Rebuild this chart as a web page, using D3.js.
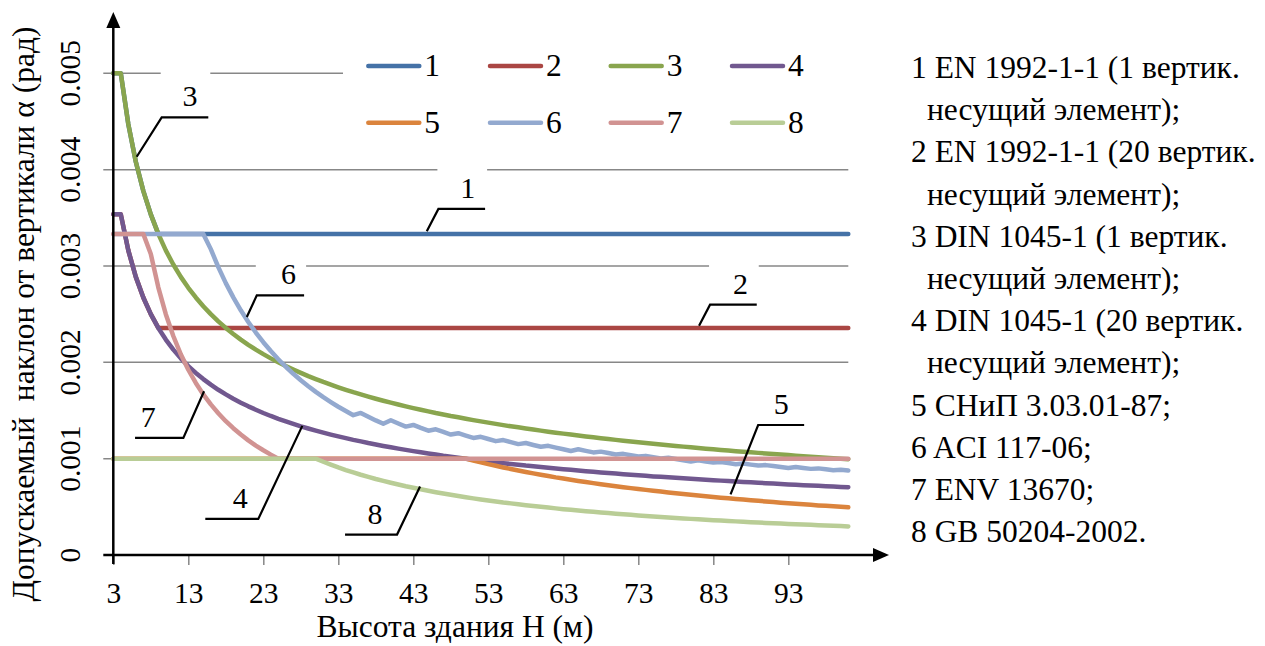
<!DOCTYPE html>
<html>
<head>
<meta charset="utf-8">
<script src="https://cdn.jsdelivr.net/npm/d3@7"></script>
<style>
  body { margin: 0; background: #fff; }
  svg { display: block; }
  svg text { font-family: "Liberation Serif", "Times New Roman", Times, serif; }
</style>
</head>
<body>
<div id="viz"></div>
<script>
const width = 1265;
const height = 646;
const plot = {left: 113.3, right: 848.3, top: 73.3, bottom: 555};
const gridColor = '#878787';
const fontFamily = '"Liberation Serif", "Times New Roman", Times, serif';
const tickFont = 29.5;
const textFont = 31.5;

// Building height H (m), one point per metre
const heights = [
  3, 4, 5, 6, 7, 8, 9, 10, 11, 12,
  13, 14, 15, 16, 17, 18, 19, 20, 21, 22,
  23, 24, 25, 26, 27, 28, 29, 30, 31, 32,
  33, 34, 35, 36, 37, 38, 39, 40, 41, 42,
  43, 44, 45, 46, 47, 48, 49, 50, 51, 52,
  53, 54, 55, 56, 57, 58, 59, 60, 61, 62,
  63, 64, 65, 66, 67, 68, 69, 70, 71, 72,
  73, 74, 75, 76, 77, 78, 79, 80, 81, 82,
  83, 84, 85, 86, 87, 88, 89, 90, 91, 92,
  93, 94, 95, 96, 97, 98, 99, 100, 101
];

// 1 EN 1992-1-1 (1 element)
const s1 = [
  0.005, 0.005, 0.004472, 0.004082, 0.00378, 0.003536, 0.003333, 0.003333, 0.003333, 0.003333,
  0.003333, 0.003333, 0.003333, 0.003333, 0.003333, 0.003333, 0.003333, 0.003333, 0.003333, 0.003333,
  0.003333, 0.003333, 0.003333, 0.003333, 0.003333, 0.003333, 0.003333, 0.003333, 0.003333, 0.003333,
  0.003333, 0.003333, 0.003333, 0.003333, 0.003333, 0.003333, 0.003333, 0.003333, 0.003333, 0.003333,
  0.003333, 0.003333, 0.003333, 0.003333, 0.003333, 0.003333, 0.003333, 0.003333, 0.003333, 0.003333,
  0.003333, 0.003333, 0.003333, 0.003333, 0.003333, 0.003333, 0.003333, 0.003333, 0.003333, 0.003333,
  0.003333, 0.003333, 0.003333, 0.003333, 0.003333, 0.003333, 0.003333, 0.003333, 0.003333, 0.003333,
  0.003333, 0.003333, 0.003333, 0.003333, 0.003333, 0.003333, 0.003333, 0.003333, 0.003333, 0.003333,
  0.003333, 0.003333, 0.003333, 0.003333, 0.003333, 0.003333, 0.003333, 0.003333, 0.003333, 0.003333,
  0.003333, 0.003333, 0.003333, 0.003333, 0.003333, 0.003333, 0.003333, 0.003333, 0.003333
];
// 2 EN 1992-1-1 (20 elements)
const s2 = [
  0.003536, 0.003536, 0.003162, 0.002887, 0.002673, 0.0025, 0.002357, 0.002357, 0.002357, 0.002357,
  0.002357, 0.002357, 0.002357, 0.002357, 0.002357, 0.002357, 0.002357, 0.002357, 0.002357, 0.002357,
  0.002357, 0.002357, 0.002357, 0.002357, 0.002357, 0.002357, 0.002357, 0.002357, 0.002357, 0.002357,
  0.002357, 0.002357, 0.002357, 0.002357, 0.002357, 0.002357, 0.002357, 0.002357, 0.002357, 0.002357,
  0.002357, 0.002357, 0.002357, 0.002357, 0.002357, 0.002357, 0.002357, 0.002357, 0.002357, 0.002357,
  0.002357, 0.002357, 0.002357, 0.002357, 0.002357, 0.002357, 0.002357, 0.002357, 0.002357, 0.002357,
  0.002357, 0.002357, 0.002357, 0.002357, 0.002357, 0.002357, 0.002357, 0.002357, 0.002357, 0.002357,
  0.002357, 0.002357, 0.002357, 0.002357, 0.002357, 0.002357, 0.002357, 0.002357, 0.002357, 0.002357,
  0.002357, 0.002357, 0.002357, 0.002357, 0.002357, 0.002357, 0.002357, 0.002357, 0.002357, 0.002357,
  0.002357, 0.002357, 0.002357, 0.002357, 0.002357, 0.002357, 0.002357, 0.002357, 0.002357
];
// 3 DIN 1045-1 (1 element)
const s3 = [
  0.005, 0.005, 0.004472, 0.004082, 0.00378, 0.003536, 0.003333, 0.003162, 0.003015, 0.002887,
  0.002774, 0.002673, 0.002582, 0.0025, 0.002425, 0.002357, 0.002294, 0.002236, 0.002182, 0.002132,
  0.002085, 0.002041, 0.002, 0.001961, 0.001925, 0.00189, 0.001857, 0.001826, 0.001796, 0.001768,
  0.001741, 0.001715, 0.00169, 0.001667, 0.001644, 0.001622, 0.001601, 0.001581, 0.001562, 0.001543,
  0.001525, 0.001508, 0.001491, 0.001474, 0.001459, 0.001443, 0.001429, 0.001414, 0.0014, 0.001387,
  0.001374, 0.001361, 0.001348, 0.001336, 0.001325, 0.001313, 0.001302, 0.001291, 0.00128, 0.00127,
  0.00126, 0.00125, 0.00124, 0.001231, 0.001222, 0.001213, 0.001204, 0.001195, 0.001187, 0.001179,
  0.00117, 0.001162, 0.001155, 0.001147, 0.00114, 0.001132, 0.001125, 0.001118, 0.001111, 0.001104,
  0.001098, 0.001091, 0.001085, 0.001078, 0.001072, 0.001066, 0.00106, 0.001054, 0.001048, 0.001043,
  0.001037, 0.001031, 0.001026, 0.001021, 0.001015, 0.00101, 0.001005, 0.001, 0.000995
];
// 4 DIN 1045-1 (20 elements)
const s4 = [
  0.003536, 0.003536, 0.003162, 0.002887, 0.002673, 0.0025, 0.002357, 0.002236, 0.002132, 0.002041,
  0.001961, 0.00189, 0.001826, 0.001768, 0.001715, 0.001667, 0.001622, 0.001581, 0.001543, 0.001508,
  0.001474, 0.001443, 0.001414, 0.001387, 0.001361, 0.001336, 0.001313, 0.001291, 0.00127, 0.00125,
  0.001231, 0.001213, 0.001195, 0.001179, 0.001162, 0.001147, 0.001132, 0.001118, 0.001104, 0.001091,
  0.001078, 0.001066, 0.001054, 0.001043, 0.001031, 0.001021, 0.00101, 0.001, 0.00099, 0.000981,
  0.000971, 0.000962, 0.000953, 0.000945, 0.000937, 0.000928, 0.000921, 0.000913, 0.000905, 0.000898,
  0.000891, 0.000884, 0.000877, 0.00087, 0.000864, 0.000857, 0.000851, 0.000845, 0.000839, 0.000833,
  0.000828, 0.000822, 0.000816, 0.000811, 0.000806, 0.000801, 0.000796, 0.000791, 0.000786, 0.000781,
  0.000776, 0.000772, 0.000767, 0.000762, 0.000758, 0.000754, 0.00075, 0.000745, 0.000741, 0.000737,
  0.000733, 0.000729, 0.000725, 0.000722, 0.000718, 0.000714, 0.000711, 0.000707, 0.000704
];
// 5 СНиП 3.03.01-87
const s5 = [
  0.001, 0.001, 0.001, 0.001, 0.001, 0.001, 0.001, 0.001, 0.001, 0.001,
  0.001, 0.001, 0.001, 0.001, 0.001, 0.001, 0.001, 0.001, 0.001, 0.001,
  0.001, 0.001, 0.001, 0.001, 0.001, 0.001, 0.001, 0.001, 0.001, 0.001,
  0.001, 0.001, 0.001, 0.001, 0.001, 0.001, 0.001, 0.001, 0.001, 0.001,
  0.001, 0.001, 0.001, 0.001, 0.001, 0.001, 0.001, 0.001, 0.00098, 0.000962,
  0.000943, 0.000926, 0.000909, 0.000893, 0.000877, 0.000862, 0.000847, 0.000833, 0.00082, 0.000806,
  0.000794, 0.000781, 0.000769, 0.000758, 0.000746, 0.000735, 0.000725, 0.000714, 0.000704, 0.000694,
  0.000685, 0.000676, 0.000667, 0.000658, 0.000649, 0.000641, 0.000633, 0.000625, 0.000617, 0.00061,
  0.000602, 0.000595, 0.000588, 0.000581, 0.000575, 0.000568, 0.000562, 0.000556, 0.000549, 0.000543,
  0.000538, 0.000532, 0.000526, 0.000521, 0.000515, 0.00051, 0.000505, 0.0005, 0.000495
];
// 6 ACI 117-06
const s6 = [
  0.003333, 0.003333, 0.003333, 0.003333, 0.003333, 0.003333, 0.003333, 0.003333, 0.003333, 0.003333,
  0.003333, 0.003333, 0.003333, 0.003175, 0.002988, 0.002822, 0.002674, 0.00254, 0.002419, 0.002309,
  0.002209, 0.002117, 0.002032, 0.001954, 0.001881, 0.001814, 0.001752, 0.001693, 0.001639, 0.001588,
  0.001539, 0.001494, 0.001451, 0.001475, 0.001435, 0.001397, 0.001362, 0.001399, 0.001365, 0.001333,
  0.00135, 0.001319, 0.00129, 0.001305, 0.001277, 0.00125, 0.001264, 0.001239, 0.001215, 0.001227,
  0.001204, 0.001182, 0.001193, 0.001172, 0.001151, 0.001162, 0.001142, 0.001123, 0.001133, 0.001115,
  0.001097, 0.00108, 0.001098, 0.001081, 0.001065, 0.001073, 0.001058, 0.001043, 0.00105, 0.001036,
  0.001022, 0.001029, 0.001015, 0.001002, 0.001009, 0.000996, 0.000983, 0.000971, 0.000983, 0.000971,
  0.00096, 0.000966, 0.000954, 0.000943, 0.000949, 0.000938, 0.000928, 0.000933, 0.000923, 0.000913,
  0.000903, 0.000913, 0.000903, 0.000894, 0.000899, 0.000889, 0.00088, 0.000885, 0.000876
];
// 7 ENV 13670
const s7 = [
  0.003333, 0.003333, 0.003333, 0.003333, 0.003333, 0.003125, 0.002778, 0.0025, 0.002273, 0.002083,
  0.001923, 0.001786, 0.001667, 0.001563, 0.001471, 0.001389, 0.001316, 0.00125, 0.00119, 0.001136,
  0.001087, 0.001042, 0.001, 0.001, 0.001, 0.001, 0.001, 0.001, 0.001, 0.001,
  0.001, 0.001, 0.001, 0.001, 0.001, 0.001, 0.001, 0.001, 0.001, 0.001,
  0.001, 0.001, 0.001, 0.001, 0.001, 0.001, 0.001, 0.001, 0.001, 0.001,
  0.001, 0.001, 0.001, 0.001, 0.001, 0.001, 0.001, 0.001, 0.001, 0.001,
  0.001, 0.001, 0.001, 0.001, 0.001, 0.001, 0.001, 0.001, 0.001, 0.001,
  0.001, 0.001, 0.001, 0.001, 0.001, 0.001, 0.001, 0.001, 0.001, 0.001,
  0.001, 0.001, 0.001, 0.001, 0.001, 0.001, 0.001, 0.001, 0.001, 0.001,
  0.001, 0.001, 0.001, 0.001, 0.001, 0.001, 0.001, 0.001, 0.001
];
// 8 GB 50204-2002
const s8 = [
  0.001, 0.001, 0.001, 0.001, 0.001, 0.001, 0.001, 0.001, 0.001, 0.001,
  0.001, 0.001, 0.001, 0.001, 0.001, 0.001, 0.001, 0.001, 0.001, 0.001,
  0.001, 0.001, 0.001, 0.001, 0.001, 0.001, 0.001, 0.001, 0.000968, 0.000938,
  0.000909, 0.000882, 0.000857, 0.000833, 0.000811, 0.000789, 0.000769, 0.00075, 0.000732, 0.000714,
  0.000698, 0.000682, 0.000667, 0.000652, 0.000638, 0.000625, 0.000612, 0.0006, 0.000588, 0.000577,
  0.000566, 0.000556, 0.000545, 0.000536, 0.000526, 0.000517, 0.000508, 0.0005, 0.000492, 0.000484,
  0.000476, 0.000469, 0.000462, 0.000455, 0.000448, 0.000441, 0.000435, 0.000429, 0.000423, 0.000417,
  0.000411, 0.000405, 0.0004, 0.000395, 0.00039, 0.000385, 0.00038, 0.000375, 0.00037, 0.000366,
  0.000361, 0.000357, 0.000353, 0.000349, 0.000345, 0.000341, 0.000337, 0.000333, 0.00033, 0.000326,
  0.000323, 0.000319, 0.000316, 0.000313, 0.000309, 0.000306, 0.000303, 0.0003, 0.000297
];

const seriesNames = ['1', '2', '3', '4', '5', '6', '7', '8'];
const seriesValues = [s1, s2, s3, s4, s5, s6, s7, s8];
const seriesColors = ['#4572A7', '#AA4643', '#89A54E', '#71588F', '#DB843D', '#93A9CF', '#D19392', '#B9CD96'];

const xTickValues = [3, 13, 23, 33, 43, 53, 63, 73, 83, 93];
const yTickValues = [0, 0.001, 0.002, 0.003, 0.004, 0.005];
const yTickLabels = ['0', '0.001', '0.002', '0.003', '0.004', '0.005'];

const xTitle = 'Высота здания H (м)';
const yTitle = 'Допускаемый  наклон от вертикали α (рад)';

const notes = [
  {text: '1 EN 1992-1-1 (1 вертик.', indent: false},
  {text: 'несущий элемент);', indent: true},
  {text: '2 EN 1992-1-1 (20 вертик.', indent: false},
  {text: 'несущий элемент);', indent: true},
  {text: '3 DIN 1045-1 (1 вертик.', indent: false},
  {text: 'несущий элемент);', indent: true},
  {text: '4 DIN 1045-1 (20 вертик.', indent: false},
  {text: 'несущий элемент);', indent: true},
  {text: '5 СНиП 3.03.01-87;', indent: false},
  {text: '6 ACI 117-06;', indent: false},
  {text: '7 ENV 13670;', indent: false},
  {text: '8 GB 50204-2002.', indent: false}
];

// leader labels: anchor on the curve (h, v), then elbow offset and horizontal shelf (pixels)
const callouts = [
  {label: '3', h: 6.12, v: 0.004134, dx: 25, dy: -39.4, len: 46.6, tx: 5},
  {label: '1', h: 44.8, v: 0.00336, dx: 11.6, dy: -22.4, len: 46.7, tx: 6},
  {label: '6', h: 20.8, v: 0.00247, dx: 10, dy: -21.7, len: 47.3, tx: 8},
  {label: '2', h: 81.1, v: 0.00238, dx: 11, dy: -21, len: 46.7, tx: 7},
  {label: '7', h: 15.1, v: 0.0017, dx: -20.7, dy: 46.6, len: -48.3, tx: -11},
  {label: '4', h: 28.2, v: 0.00134, dx: -44, dy: 93, len: -53, tx: 8.5},
  {label: '8', h: 43.9, v: 0.00071, dx: -23, dy: 48, len: -52, tx: 4},
  {label: '5', h: 85.3, v: 0.00063, dx: 27.6, dy: -69.3, len: 46, tx: 0}
];

// Scales
const xScale = d3.scaleLinear()
  .domain([3, 101])
  .range([plot.left, plot.right]);
const yScale = d3.scaleLinear()
  .domain([0, 0.005])
  .range([plot.bottom, plot.top]);

const svg = d3.select('#viz')
  .append('svg')
    .attr('width', width)
    .attr('height', height)
    .attr('viewBox', [0, 0, width, height])
    .attr('font-family', fontFamily);

// Gridlines (start 10px left of the axis, like outside ticks)
svg.append('g')
    .attr('class', 'grid')
  .selectAll('line')
  .data(yTickValues.filter(d => d > 0))
  .join('line')
    .attr('x1', plot.left - 10)
    .attr('x2', plot.right)
    .attr('y1', d => yScale(d))
    .attr('y2', d => yScale(d))
    .attr('stroke', gridColor)
    .attr('stroke-width', 1.5);

// x axis ticks + labels
const xAxis = d3.axisBottom(xScale)
  .tickValues(xTickValues)
  .tickSize(10)
  .tickPadding(17)
  .tickFormat(d3.format('d'));
const xAxisGroup = svg.append('g')
    .attr('transform', `translate(0, ${plot.bottom})`)
    .call(xAxis)
    .attr('font-family', fontFamily)
    .attr('font-size', tickFont);
xAxisGroup.select('.domain').remove();
xAxisGroup.selectAll('.tick line')
    .attr('stroke', gridColor)
    .attr('stroke-width', 1.5);
xAxisGroup.selectAll('.tick text')
    .attr('fill', '#000');

// y tick labels, rotated
svg.append('g')
  .selectAll('text')
  .data(yTickValues)
  .join('text')
    .attr('transform', d => `translate(80, ${yScale(d)}) rotate(-90)`)
    .attr('text-anchor', 'middle')
    .attr('font-size', tickFont)
    .text((d, i) => yTickLabels[i]);

// white boxes behind callout numbers (they cut the gridlines)
callouts.forEach(c => {
  c.ax = xScale(c.h);
  c.ay = yScale(c.v);
  c.ex = c.ax + c.dx;
  c.ey = c.ay + c.dy;
  c.fx = c.ex + c.len;
  c.x0 = Math.min(c.ex, c.fx);
  c.x1 = Math.max(c.ex, c.fx);
});
svg.append('g')
  .selectAll('rect')
  .data(callouts)
  .join('rect')
    .attr('x', d => d.x0 - 1)
    .attr('y', d => d.ey - 46)
    .attr('width', d => d.x1 - d.x0 + 3)
    .attr('height', 44)
    .attr('fill', '#fff');

// legend box
svg.append('rect')
    .attr('x', 343)
    .attr('y', 40)
    .attr('width', plot.right - 343 + 2)
    .attr('height', 105)
    .attr('fill', '#fff');

// Series lines
const line = d3.line()
  .x((d, i) => xScale(heights[i]))
  .y(d => yScale(d));

svg.append('g')
    .attr('class', 'series')
  .selectAll('path')
  .data(seriesValues)
  .join('path')
    .attr('d', d => line(d))
    .attr('fill', 'none')
    .attr('stroke', (d, i) => seriesColors[i])
    .attr('stroke-width', 4.5)
    .attr('stroke-linejoin', 'round')
    .attr('stroke-linecap', 'round');

// Axes with arrows
const axes = svg.append('g').attr('class', 'axes');
axes.append('line')
    .attr('x1', plot.left - 10)
    .attr('x2', 876)
    .attr('y1', plot.bottom)
    .attr('y2', plot.bottom)
    .attr('stroke', '#000')
    .attr('stroke-width', 2.5);
axes.append('path')
    .attr('d', `M889,${plot.bottom} L873,${plot.bottom - 7} L873,${plot.bottom + 7} Z`)
    .attr('fill', '#000');
axes.append('line')
    .attr('x1', plot.left)
    .attr('x2', plot.left)
    .attr('y1', plot.bottom + 9)
    .attr('y2', 27)
    .attr('stroke', '#000')
    .attr('stroke-width', 2.5);
axes.append('path')
    .attr('d', `M${plot.left},12 L${plot.left - 7},28 L${plot.left + 7},28 Z`)
    .attr('fill', '#000');

// Axis titles
svg.append('text')
    .attr('x', 455)
    .attr('y', 637)
    .attr('text-anchor', 'middle')
    .attr('font-size', textFont)
    .text(xTitle);
svg.append('text')
    .attr('transform', 'translate(34, 314) rotate(-90)')
    .attr('text-anchor', 'middle')
    .attr('font-size', textFont)
    .style('white-space', 'pre')
    .text(yTitle);

// Callout leaders and numbers
const calloutGroup = svg.append('g').attr('class', 'callouts');
calloutGroup.selectAll('path')
  .data(callouts)
  .join('path')
    .attr('d', d => `M${d.ax},${d.ay} L${d.ex},${d.ey} L${d.fx},${d.ey}`)
    .attr('fill', 'none')
    .attr('stroke', '#000')
    .attr('stroke-width', 2.2);
calloutGroup.selectAll('text')
  .data(callouts)
  .join('text')
    .attr('x', d => (d.x0 + d.x1) / 2 + d.tx)
    .attr('y', d => d.ey - 11)
    .attr('text-anchor', 'middle')
    .attr('font-size', 30)
    .text(d => d.label);

// Legend: 2 rows x 4 columns
const legendCols = [368.3, 490, 610.7, 732];
const legendRows = [66, 122.7];
const legend = svg.append('g')
  .attr('class', 'legend')
  .selectAll('g')
  .data(seriesNames)
  .join('g')
    .attr('transform', (d, i) => `translate(${legendCols[i % 4]}, ${legendRows[Math.floor(i / 4)]})`);
legend.append('line')
    .attr('x1', 0)
    .attr('x2', 51)
    .attr('stroke', (d, i) => seriesColors[i])
    .attr('stroke-width', 4.5)
    .attr('stroke-linecap', 'round');
legend.append('text')
    .attr('x', 56)
    .attr('y', 10)
    .attr('font-size', textFont)
    .text(d => d);

// Notes on the right
svg.append('g')
  .selectAll('text')
  .data(notes)
  .join('text')
    .attr('x', d => d.indent ? 927 : 911)
    .attr('y', (d, i) => 78 + i * 42.2)
    .attr('font-size', textFont)
    .text(d => d.text);
</script>
</body>
</html>
